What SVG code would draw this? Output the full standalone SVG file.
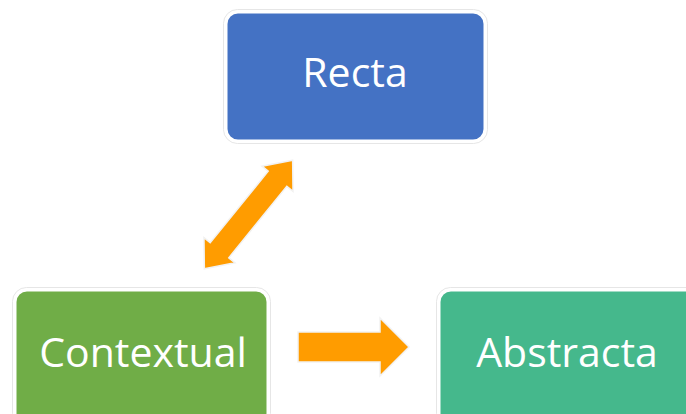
<svg xmlns="http://www.w3.org/2000/svg" width="686" height="414" viewBox="0 0 686 414">
<style>
.frame{fill:none;stroke:#e6e6e6;stroke-width:1}
.box{stroke:#ffffff;stroke-width:3}
.lbl{font-family:"Open Sans","Noto Sans","DejaVu Sans",sans-serif;font-size:41px;fill:#ffffff;text-anchor:middle}
.arr{fill:#ff9c00;stroke:#f2f2f2;stroke-width:1.5;stroke-linejoin:miter}
</style>
<rect width="686" height="414" fill="#ffffff"/>
<g id="recta">
<rect class="frame" x="223.5" y="9.5" width="264" height="134" rx="14"/>
<rect class="box" x="226" y="12" width="259" height="129" rx="12" fill="#4472c4"/>
<text class="lbl" x="355" y="87">Recta</text>
</g>
<g id="contextual">
<rect class="frame" x="12.5" y="287.5" width="258" height="140" rx="14"/>
<rect class="box" x="15" y="290" width="253" height="135" rx="12" fill="#70ad47"/>
<text class="lbl" x="143" y="367">Contextual</text>
</g>
<g id="abstracta">
<rect class="frame" x="436.5" y="287.5" width="270" height="140" rx="14"/>
<rect class="box" x="439" y="290" width="265" height="135" rx="12" fill="#45b88c"/>
<text class="lbl" x="567" y="367">Abstracta</text>
</g>
<g id="connectors">
<polygon class="arr" transform="translate(248.5 214.5) rotate(-50.9)" points="-70,0 -46,-20 -46,-12 46,-12 46,-20 70,0 46,20 46,12 -46,12 -46,20"/>
<polygon class="arr" points="298,332 380,332 380,318 409,347 380,376 380,362 298,362"/>
</g>
</svg>
